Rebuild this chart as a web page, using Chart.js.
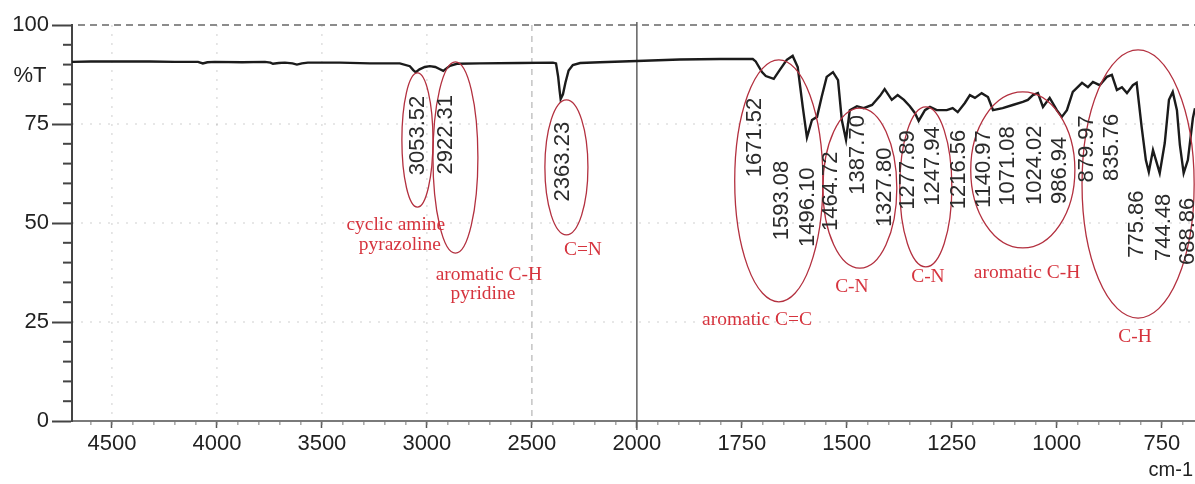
<!DOCTYPE html>
<html>
<head>
<meta charset="utf-8">
<script src="https://cdn.jsdelivr.net/npm/chart.js@4"></script>
<style>
  html, body { margin: 0; padding: 0; background: #fff; }
  #wrap { width: 1195px; height: 484px; position: relative; }
</style>
</head>
<body>
<div id="wrap"><canvas id="irChart"></canvas></div>
<script>
// spectrum (wavenumber cm-1, %T)
const wavenumbers = [4690, 4600, 4510, 4320, 4200, 4090, 4067, 4045, 4010, 3880, 3771, 3745, 3733, 3705, 3676, 3640, 3619, 3595, 3567, 3414, 3271, 3129, 3081, 3065, 3053, 3035, 3010, 2986, 2960, 2940, 2922, 2905, 2890, 2857, 2748, 2557, 2400, 2385, 2375, 2368, 2363, 2352, 2340, 2325, 2305, 2270, 2176, 2000, 1898, 1802, 1724, 1717, 1702, 1693, 1674, 1660, 1643, 1629, 1617, 1605, 1595, 1583, 1571, 1560, 1548, 1533, 1521, 1512, 1502, 1493, 1476, 1460, 1440, 1421, 1410, 1393, 1379, 1364, 1350, 1338, 1329, 1314, 1302, 1286, 1262, 1248, 1236, 1219, 1207, 1195, 1179, 1164, 1152, 1129, 1105, 1081, 1069, 1057, 1045, 1033, 1017, 1000, 988, 976, 962, 940, 926, 914, 898, 881, 869, 857, 845, 833, 819, 810, 798, 788, 781, 771, 764, 755, 743, 733, 724, 714, 707, 698, 688, 676, 671];
const transmittance = [90.7, 90.8, 90.8, 90.8, 90.7, 90.7, 90.3, 90.6, 90.7, 90.6, 90.7, 90.5, 90.2, 90.4, 90.5, 90.3, 90.0, 90.3, 90.5, 90.5, 90.3, 90.3, 89.6, 88.6, 88.1, 88.8, 89.4, 89.6, 89.4, 88.9, 88.4, 89.1, 89.7, 90.2, 90.3, 90.4, 90.5, 90.3, 87.0, 83.5, 81.3, 82.5, 85.5, 88.5, 89.9, 90.4, 90.6, 90.9, 91.3, 91.4, 91.4, 90.8, 88.1, 87.1, 86.4, 88.6, 91.2, 92.2, 89.4, 79.3, 71.6, 76.0, 76.8, 81.8, 86.9, 88.1, 86.1, 76.0, 71.0, 78.5, 79.5, 79.0, 79.8, 82.1, 83.8, 81.1, 82.3, 81.1, 79.5, 77.8, 75.8, 78.5, 79.3, 78.5, 78.5, 79.0, 78.0, 80.3, 82.3, 81.6, 82.8, 81.8, 78.5, 79.0, 79.8, 80.6, 81.1, 82.3, 82.8, 79.3, 81.6, 78.5, 76.8, 78.5, 83.1, 85.4, 84.3, 85.6, 84.8, 86.9, 87.4, 83.6, 84.3, 82.8, 84.8, 85.4, 74.2, 65.9, 62.9, 68.4, 65.9, 62.6, 70.2, 81.1, 83.1, 78.5, 69.7, 62.6, 65.9, 76.5, 79.0];

const xTickValues = [4500, 4000, 3500, 3000, 2500, 2000, 1750, 1500, 1250, 1000, 750];
const yTickValues = [0, 25, 50, 75, 100];

const peakLabels = ['3053.52', '2922.31', '2363.23', '1671.52', '1593.08', '1496.10', '1464.72', '1387.70', '1327.80', '1277.89', '1247.94', '1216.56', '1140.97', '1071.08', '1024.02', '986.94', '879.97', '835.76', '775.86', '744.48', '688.86'];
const noteText = ['cyclic amine', 'pyrazoline', 'aromatic C-H', 'pyridine', 'C=N', 'aromatic C=C', 'C-N', 'C-N', 'aromatic C-H', 'C-H'];

// where the labels and rings sit (wavenumber, %T)
const peakLabelWn = [3043, 2910, 2352, 1719, 1655, 1593, 1538, 1474, 1410, 1355, 1295, 1233, 1174, 1117, 1052, 993, 929, 869, 810, 745, 688];
const peakLabelT = [72.1, 72.3, 65.5, 71.6, 55.7, 54.0, 58.0, 67.2, 59.0, 63.4, 64.4, 63.5, 63.6, 64.4, 64.6, 63.3, 68.7, 69.1, 49.7, 48.9, 47.9];
const notePos = [[3148, 49.5], [3129, 44.4], [2705, 36.9], [2733, 32.1], [2257, 43.2], [1714, 25.5], [1488, 33.8], [1307, 36.4], [1071, 37.4], [814, 21.2]];
const rings = [[3119, 2971, 87.9, 54.0], [2971, 2757, 90.7, 42.4], [2438, 2233, 81.1, 47.0], [1767, 1557, 91.2, 30.1], [1557, 1381, 79.0, 38.6], [1374, 1250, 79.3, 38.9], [1205, 957, 83.1, 43.7], [940, 673, 93.7, 26.0]];

// the instrument doubles the scale below 2000 cm-1
function toAxis(w) { return w > 2000 ? 2000 + (w - 2000) / 2 : w; }
function fromAxis(p) { return p > 2000 ? 2000 + (p - 2000) * 2 : p; }

const SANS = '"Liberation Sans", Arial, sans-serif';
const SERIF = '"Liberation Serif", "Times New Roman", serif';

const decor = {
    id: 'decor',
    beforeDatasetsDraw(chart) {
        const { ctx, chartArea: a, scales: { x, y } } = chart;
        ctx.save();
        // faint dotted grid
        ctx.lineWidth = 1.5;
        ctx.strokeStyle = 'rgba(0,0,0,0.13)';
        ctx.setLineDash([2, 7]);
        [25, 50, 75].forEach(v => {
            const py = y.getPixelForValue(v);
            ctx.beginPath(); ctx.moveTo(a.left, py); ctx.lineTo(a.right, py); ctx.stroke();
        });
        [4500, 4000, 3500, 3000].forEach(v => {
            const px = x.getPixelForValue(toAxis(v));
            ctx.beginPath(); ctx.moveTo(px, a.top); ctx.lineTo(px, a.bottom); ctx.stroke();
        });
        // 2500 dashed
        ctx.strokeStyle = '#c4c4c4';
        ctx.setLineDash([6, 5]);
        let px = x.getPixelForValue(toAxis(2500));
        ctx.beginPath(); ctx.moveTo(px, a.top); ctx.lineTo(px, a.bottom); ctx.stroke();
        // top dashed line at 100
        ctx.strokeStyle = '#8c8c8c';
        ctx.lineWidth = 2;
        ctx.setLineDash([7, 5]);
        const top = y.getPixelForValue(100);
        ctx.beginPath(); ctx.moveTo(a.left + 6, top); ctx.lineTo(a.right, top); ctx.stroke();
        // scale break at 2000
        ctx.setLineDash([]);
        ctx.strokeStyle = '#606060';
        ctx.lineWidth = 1.5;
        px = x.getPixelForValue(toAxis(2000));
        ctx.beginPath(); ctx.moveTo(px, a.top - 3); ctx.lineTo(px, a.bottom + 9); ctx.stroke();
        ctx.restore();
    },
    afterDatasetsDraw(chart) {
        const { ctx, chartArea: a, scales: { x, y } } = chart;
        const X = w => x.getPixelForValue(toAxis(w));
        ctx.save();
        // minor ticks
        ctx.strokeStyle = '#444';
        ctx.lineWidth = 2;
        for (let v = 5; v < 100; v += 5) {
            if (v % 25 === 0) continue;
            const py = y.getPixelForValue(v);
            ctx.beginPath(); ctx.moveTo(a.left - 9, py); ctx.lineTo(a.left, py); ctx.stroke();
        }
        ctx.strokeStyle = '#777';
        ctx.lineWidth = 1;
        for (let w = 4600; w > 2000; w -= 100) {
            ctx.beginPath(); ctx.moveTo(X(w), a.bottom); ctx.lineTo(X(w), a.bottom + 4); ctx.stroke();
        }
        for (let w = 1950; w > 680; w -= 50) {
            ctx.beginPath(); ctx.moveTo(X(w), a.bottom); ctx.lineTo(X(w), a.bottom + 4); ctx.stroke();
        }

        // rings
        ctx.strokeStyle = '#b3303f';
        ctx.lineWidth = 1.3;
        rings.forEach(r => {
            const x1 = X(r[0]), x2 = X(r[1]);
            const y1 = y.getPixelForValue(r[2]), y2 = y.getPixelForValue(r[3]);
            ctx.beginPath();
            ctx.ellipse((x1 + x2) / 2, (y1 + y2) / 2, (x2 - x1) / 2, (y2 - y1) / 2, 0, 0, Math.PI * 2);
            ctx.stroke();
        });

        // peak values, rotated
        ctx.fillStyle = '#2b2b2b';
        ctx.font = '22px ' + SANS;
        ctx.textAlign = 'center';
        ctx.textBaseline = 'middle';
        peakLabels.forEach((txt, i) => {
            ctx.save();
            ctx.translate(X(peakLabelWn[i]), y.getPixelForValue(peakLabelT[i]));
            ctx.rotate(-Math.PI / 2);
            ctx.fillText(txt, 0, 0);
            ctx.restore();
        });

        // group names
        ctx.fillStyle = '#d6343e';
        ctx.font = '18px ' + SERIF;
        noteText.forEach((txt, i) => {
            ctx.save();
            ctx.translate(X(notePos[i][0]), y.getPixelForValue(notePos[i][1]));
            ctx.scale(1.08, 1);
            ctx.fillText(txt, 0, 0);
            ctx.restore();
        });

        // axis captions
        ctx.fillStyle = '#222';
        ctx.font = '22px ' + SANS;
        ctx.fillText('%T', a.left - 42, y.getPixelForValue(87.1));
        ctx.font = '20px ' + SANS;
        ctx.textAlign = 'right';
        ctx.fillText('cm-1', a.right - 2, a.bottom + 49);
        ctx.restore();
    }
};

const ctx = document.getElementById('irChart').getContext('2d');
new Chart(ctx, {
    type: 'line',
    data: {
        datasets: [{
            data: wavenumbers.map((w, i) => ({ x: toAxis(w), y: transmittance[i] })),
            borderColor: '#1b1b1b',
            borderWidth: 2.4,
            pointRadius: 0,
            tension: 0
        }]
    },
    options: {
        responsive: true,
        maintainAspectRatio: false,
        animation: false,
        layout: { padding: { top: 25, left: 0, right: 0, bottom: 0 } },
        plugins: { legend: { display: false }, tooltip: { enabled: false } },
        scales: {
            x: {
                type: 'linear',
                reverse: true,
                min: 671,
                max: 3345,
                afterBuildTicks: s => { s.ticks = xTickValues.map(v => ({ value: toAxis(v) })); },
                afterFit: s => { s.height = 63; },
                ticks: {
                    autoSkip: false,
                    maxRotation: 0,
                    padding: 3,
                    color: '#222',
                    font: { family: SANS, size: 22 },
                    callback: v => String(fromAxis(v))
                },
                grid: { drawOnChartArea: false, tickLength: 7, tickColor: '#555', tickWidth: 1.5 },
                border: { display: true, color: '#7a7a7a', width: 2, dash: [5, 4] }
            },
            y: {
                min: 0,
                max: 100,
                afterBuildTicks: s => {
                    const t = [];
                    for (let v = 0; v <= 100; v += 5) t.push({ value: v });
                    s.ticks = t;
                },
                afterFit: s => { s.width = 72; },
                ticks: {
                    autoSkip: false,
                    padding: 3,
                    color: '#222',
                    font: { family: SANS, size: 22 },
                    callback: v => (yTickValues.includes(v) ? String(v) : '')
                },
                grid: {
                    drawOnChartArea: false,
                    tickLength: 20,
                    tickWidth: 2,
                    tickColor: c => (yTickValues.includes(c.tick.value) ? '#444' : 'rgba(0,0,0,0)')
                },
                border: { display: true, color: '#444', width: 2 }
            }
        }
    },
    plugins: [decor]
});
</script>
</body>
</html>
